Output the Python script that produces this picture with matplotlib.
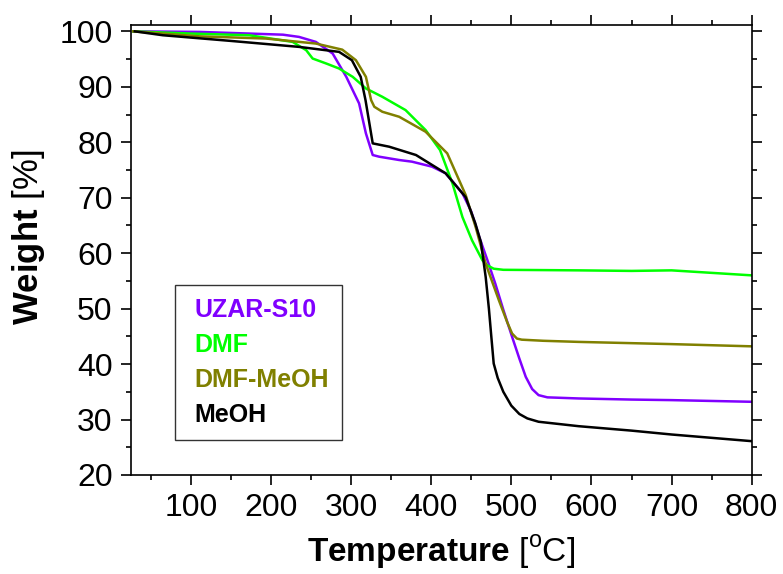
import matplotlib
matplotlib.use("Agg")
import matplotlib.pyplot as plt
from matplotlib.ticker import MultipleLocator

plt.rcParams['font.family'] = ['Liberation Sans', 'DejaVu Sans']
plt.rcParams['mathtext.fontset'] = 'custom'
plt.rcParams['mathtext.rm'] = 'Liberation Sans'
plt.rcParams['mathtext.bf'] = 'Liberation Sans:bold'

T_uzar = [28, 111, 215, 235, 256, 277, 294, 310, 318.5, 327, 335, 360, 376, 401, 418, 439, 450, 460, 470, 480, 490, 501, 510, 518, 526, 534, 545, 584, 650, 700, 800]
W_uzar = [100, 99.9, 99.4, 99.0, 98.1, 96.0, 91.8, 87.0, 81.6, 77.7, 77.4, 76.8, 76.5, 75.6, 74.4, 70.8, 67.5, 62.9, 58.8, 54.5, 49.8, 44.9, 41.0, 37.7, 35.5, 34.4, 34.0, 33.8, 33.6, 33.5, 33.2]

T_dmf = [28, 100, 173, 227, 244, 252, 269, 285, 302, 318.5, 339, 368, 393, 411, 426.5, 439, 451, 464, 470, 478, 490, 584, 650, 700, 800]
W_dmf = [100, 99.6, 99.3, 98.1, 96.6, 95.1, 94.2, 93.3, 91.8, 89.7, 88.2, 85.8, 82.2, 78.6, 72.6, 66.5, 62.3, 58.7, 57.8, 57.2, 57.0, 56.9, 56.8, 56.9, 56.0]

T_dmfmeoh = [28, 111, 194, 256, 289, 306, 318.5, 325, 329, 339, 360, 393, 420, 443, 455.5, 468, 484.5, 495, 501, 507, 513, 540, 584, 700, 800]
W_dmfmeoh = [100, 99.1, 98.7, 97.8, 96.7, 94.8, 91.8, 87.6, 86.4, 85.5, 84.6, 81.9, 78.0, 70.5, 64.7, 58.1, 51.5, 47.5, 45.5, 44.6, 44.4, 44.2, 44.0, 43.6, 43.2]

T_meoh = [30, 65, 148, 235, 285, 301, 312, 318, 327, 347.5, 381, 418, 443, 455, 462, 468, 472, 475, 478, 483, 490, 500, 510, 520, 534, 584, 650, 700, 800]
W_meoh = [100, 99.3, 98.3, 97.2, 96.3, 94.8, 91.8, 87.6, 79.8, 79.2, 77.7, 74.4, 70.1, 65.4, 62.0, 55.7, 50.0, 45.0, 40.1, 37.5, 35.0, 32.5, 31.0, 30.2, 29.6, 28.8, 28.0, 27.3, 26.1]

labels = ['UZAR-S10', 'DMF', 'DMF-MeOH', 'MeOH']
colors = ['#8000ff', '#00ff00', '#808000', '#000000']
series = [(T_uzar, W_uzar), (T_dmf, W_dmf), (T_dmfmeoh, W_dmfmeoh), (T_meoh, W_meoh)]

fig = plt.figure(figsize=(7.83, 5.74), dpi=100)
ax = fig.add_axes([0.167, 0.1725, 0.793, 0.7835])

for (t, w), c, l in zip(series, colors, labels):
    ax.plot(t, w, color=c, lw=1.8, label=l)

ax.set_xlim(25, 800)
ax.set_ylim(20, 101.1)
ax.xaxis.set_major_locator(MultipleLocator(100))
ax.xaxis.set_minor_locator(MultipleLocator(50))
ax.yaxis.set_major_locator(MultipleLocator(10))
ax.yaxis.set_minor_locator(MultipleLocator(5))
ax.tick_params(which='both', direction='out', top=True, right=True,
               labeltop=False, labelright=False, width=1.2)
ax.tick_params(which='major', length=7, labelsize=23, pad=6)
ax.tick_params(which='minor', length=3.5)
for s in ax.spines.values():
    s.set_linewidth(1.2)

ax.set_xlabel(r'$\mathbf{Temperature}$ [$^{\rm o}$C]', fontsize=24)
ax.set_ylabel(r'$\mathbf{Weight}$ [%]', fontsize=25)
ax.xaxis.set_label_coords(0.5, -0.13)
ax.yaxis.set_label_coords(-0.135, 0.529)

leg = ax.legend(loc='lower left', bbox_to_anchor=(0.0709, 0.078), borderaxespad=0,
                handlelength=0, handletextpad=0.3,
                frameon=True, fancybox=False, edgecolor='black',
                borderpad=0.5, labelspacing=0.45, prop={'weight': 'bold', 'size': 18})
for txt, c, h in zip(leg.get_texts(), colors, leg.legend_handles):
    txt.set_color(c)
    h.set_visible(False)
leg.get_frame().set_linewidth(1.0)

fig.savefig('out.png', dpi=100)
